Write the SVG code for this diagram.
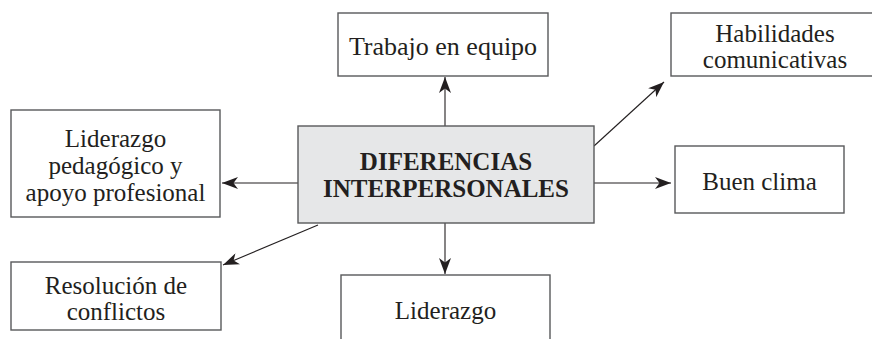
<svg xmlns="http://www.w3.org/2000/svg" width="872" height="339" viewBox="0 0 872 339">
<style>
.box{fill:#ffffff;stroke:#58595b;stroke-width:1.4}
.center{fill:#e6e7e8;stroke:#58595b;stroke-width:1.4}
.t{font-family:"Liberation Serif","Times New Roman",serif;font-size:25px;fill:#231f20;text-anchor:middle}
.tb{font-weight:bold}
.c{fill:none;stroke:#231f20;stroke-width:1.1}
</style>
<defs>
<marker id="ah" markerUnits="userSpaceOnUse" viewBox="0 0 16 12" markerWidth="16" markerHeight="12" refX="16" refY="6" orient="auto">
<path d="M16,6 L0,0 L4.5,6 L0,12 Z" fill="#231f20"/>
</marker>
</defs>
<rect width="872" height="339" fill="#ffffff"/>
<g id="connectors">
<line class="c" x1="445" y1="126" x2="445" y2="77" marker-end="url(#ah)"/>
<line class="c" x1="445" y1="223" x2="445" y2="274" marker-end="url(#ah)"/>
<line class="c" x1="298" y1="183" x2="222" y2="183" marker-end="url(#ah)"/>
<line class="c" x1="594" y1="183" x2="671" y2="183" marker-end="url(#ah)"/>
<line class="c" x1="594" y1="146" x2="664" y2="82" marker-end="url(#ah)"/>
<line class="c" x1="318" y1="225" x2="223" y2="265" marker-end="url(#ah)"/>
</g>
<g id="node-center">
<rect class="center" x="298" y="126" width="296" height="97"/>
<text class="t tb" x="446" y="170">DIFERENCIAS</text>
<text class="t tb" x="446" y="197">INTERPERSONALES</text>
</g>
<g id="node-trabajo">
<rect class="box" x="338" y="13" width="210" height="63"/>
<text class="t" x="443" y="55" style="font-size:26px">Trabajo en equipo</text>
</g>
<g id="node-habilidades">
<rect class="box" x="671" y="13" width="210" height="63"/>
<text class="t" x="775" y="42">Habilidades</text>
<text class="t" x="775" y="68">comunicativas</text>
</g>
<g id="node-liderazgo-pedagogico">
<rect class="box" x="11" y="110" width="209" height="107"/>
<text class="t" x="115.5" y="147">Liderazgo</text>
<text class="t" x="115.5" y="174">pedagógico y</text>
<text class="t" x="115.5" y="201">apoyo profesional</text>
</g>
<g id="node-buen-clima">
<rect class="box" x="675" y="146" width="169" height="67"/>
<text class="t" x="759.5" y="190">Buen clima</text>
</g>
<g id="node-resolucion">
<rect class="box" x="11" y="262" width="210" height="68"/>
<text class="t" x="116" y="294">Resolución de</text>
<text class="t" x="116" y="320">conflictos</text>
</g>
<g id="node-liderazgo">
<rect class="box" x="341" y="275" width="209" height="80"/>
<text class="t" x="445.5" y="319">Liderazgo</text>
</g>
</svg>
